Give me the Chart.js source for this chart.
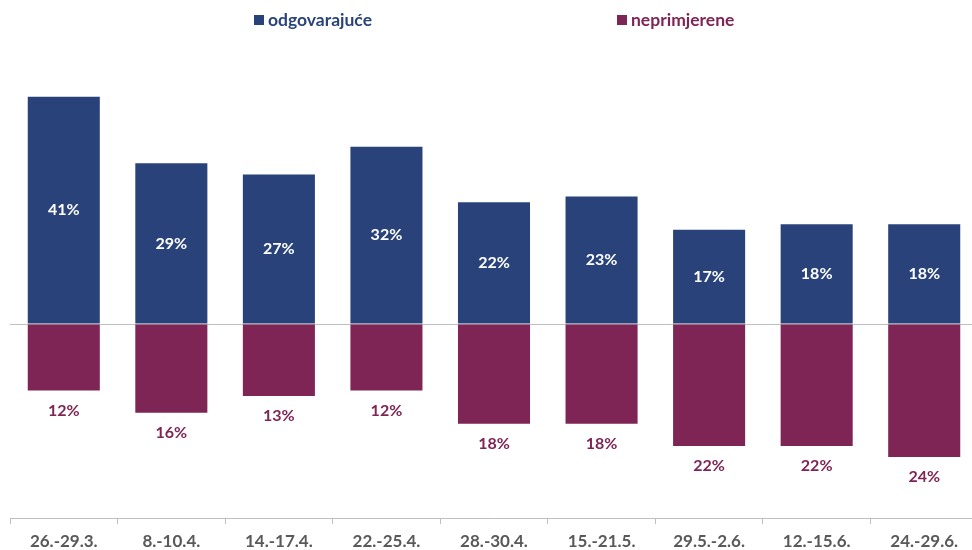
<!DOCTYPE html>
<html lang="hr">
<head>
    <meta charset="UTF-8">
    <title>odgovarajuće / neprimjerene</title>
    <script src="https://cdn.jsdelivr.net/npm/chart.js"></script>
    <style>
        html, body { margin: 0; padding: 0; overflow: hidden; background: #fff; }
        .wrap { width: 978px; height: 550px; position: relative; }
    </style>
</head>
<body>
    <div class="wrap">
        <canvas id="chart"></canvas>
    </div>

    <script>
    const periods = ['26.-29.3.', '8.-10.4.', '14.-17.4.', '22.-25.4.', '28.-30.4.', '15.-21.5.', '29.5.-2.6.', '12.-15.6.', '24.-29.6.'];
    const odgovarajuce = [41, 29, 27, 32, 22, 23, 17, 18, 18];
    const neprimjerene = [-12, -16, -13, -12, -18, -18, -22, -22, -24];

    const BLUE = '#29437a';
    const MAROON = '#7e2556';
    const FONT = 'Lato, "Open Sans", sans-serif';

    // value labels: white inside the blue bars, maroon under the maroon ones
    const valueLabels = {
        id: 'valueLabels',
        afterDatasetsDraw(chart) {
            const ctx = chart.ctx;
            ctx.save();
            ctx.font = 'bold 16px ' + FONT;
            ctx.textAlign = 'center';
            ctx.textBaseline = 'middle';
            chart.data.datasets.forEach((ds, di) => {
                chart.getDatasetMeta(di).data.forEach((bar, i) => {
                    const txt = Math.abs(ds.data[i]) + '%';
                    if (di === 0) {
                        ctx.fillStyle = '#ffffff';
                        ctx.fillText(txt, bar.x, (bar.y + bar.base) / 2);
                    } else {
                        ctx.fillStyle = MAROON;
                        ctx.fillText(txt, bar.x, bar.y + 20);
                    }
                });
            });
            ctx.restore();
        }
    };

    // legend spread over the top like in the original
    const spreadLegend = {
        id: 'spreadLegend',
        afterDraw(chart) {
            const ctx = chart.ctx;
            const spots = [254, 617];
            ctx.save();
            ctx.font = 'bold 17.5px ' + FONT;
            ctx.textBaseline = 'middle';
            chart.data.datasets.forEach((ds, i) => {
                const x = spots[i];
                ctx.fillStyle = ds.backgroundColor;
                ctx.fillRect(x, 15, 10, 10);
                ctx.fillText(ds.label, x + 14, 20);
            });
            ctx.restore();
        }
    };

    new Chart(document.getElementById('chart'), {
        type: 'bar',
        data: {
            labels: periods,
            datasets: [
                { label: 'odgovarajuće', data: odgovarajuce, backgroundColor: BLUE },
                { label: 'neprimjerene', data: neprimjerene, backgroundColor: MAROON }
            ]
        },
        options: {
            responsive: true,
            maintainAspectRatio: false,
            animation: false,
            layout: { padding: { top: 47, left: 10, right: 0, bottom: 0 } },
            datasets: { bar: { categoryPercentage: 1, barPercentage: 0.67 } },
            plugins: {
                legend: { display: false },
                tooltip: { enabled: false }
            },
            scales: {
                x: {
                    stacked: true,
                    afterFit: s => { s.height = 32; },
                    border: { color: '#bfbfbf', width: 1 },
                    grid: { drawOnChartArea: false, color: '#bfbfbf', tickLength: 6 },
                    ticks: {
                        color: '#595959',
                        padding: 7,
                        font: { family: FONT, size: 17, weight: 'bold' }
                    }
                },
                y: {
                    stacked: true,
                    min: -35,
                    max: 50,
                    afterFit: s => { s.width = 0; },
                    border: { display: false },
                    ticks: { display: false, stepSize: 5 },
                    grid: {
                        drawTicks: false,
                        color: c => c.tick.value === 0 ? '#bfbfbf' : 'transparent'
                    }
                }
            }
        },
        plugins: [valueLabels, spreadLegend]
    });
    </script>
</body>
</html>
